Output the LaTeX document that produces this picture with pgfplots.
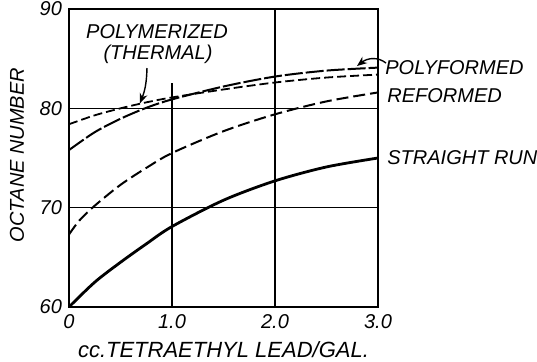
\documentclass[border=0pt]{standalone}
\usepackage{pgfplots}
\pgfplotsset{compat=1.18}
\usepackage{fontspec}
\setmainfont{Liberation Sans}
\usetikzlibrary{arrows.meta}

% octane number vs. tetraethyl lead, four gasolines
\pgfplotstableread{
x    y
0    60.0
0.25 62.5
0.5  64.5
0.75 66.35
1.0  68.1
1.5  70.75
2.0  72.7
2.5  74.1
3.0  75.0
}\straightrun
\pgfplotstableread{
x    y
0    67.3
0.1  68.7
0.25 70.2
0.5  72.3
0.75 74.0
1.0  75.5
1.5  77.7
2.0  79.4
2.5  80.7
3.0  81.6
}\reformed
\pgfplotstableread{
x    y
0    75.8
0.25 77.6
0.5  78.95
0.75 80.05
1.0  80.9
1.5  82.2
2.0  83.2
2.5  83.8
3.0  84.1
}\polyformed
\pgfplotstableread{
x    y
0    78.4
0.25 79.3
0.5  80.0
0.75 80.6
1.0  81.1
1.5  81.9
2.0  82.6
2.5  83.1
3.0  83.4
}\polymerized

\begin{document}
\begin{tikzpicture}
\useasboundingbox (0,0) rectangle (268.5pt,180.5pt);
\begin{axis}[
  at={(34.5pt,27pt)}, anchor=south west,
  scale only axis, width=154.5pt, height=149pt,
  xmin=0, xmax=3, ymin=60, ymax=90,
  xtick={0,1,2,3}, xticklabels={0,1.0,2.0,3.0},
  ytick={60,70,80,90},
  major tick length=0pt,
  axis line style={line width=1.1pt},
  /pgf/number format/assume math mode=true,
  tick label style={font=\itshape},
  xlabel={cc.TETRAETHYL LEAD/GAL.},
  ylabel={OCTANE NUMBER},
  xlabel style={font=\fontsize{11}{13}\selectfont\itshape, at={(axis description cs:0.5,-0.144)}, anchor=center},
  ylabel style={font=\itshape, at={(axis description cs:-0.168,0.51)}, anchor=center},
  clip=false,
]
% grid lines
\draw[line width=0.6pt] (axis cs:0,70) -- (axis cs:3,70);
\draw[line width=0.6pt] (axis cs:0,80) -- (axis cs:3,80);
\draw[line width=0.6pt] (axis cs:2,60) -- (axis cs:2,90);
\draw[line width=0.6pt] (axis cs:1,60) -- (axis cs:1,82.6);

\addplot[black, line width=1.4pt, smooth] table {\straightrun};
\addplot[black, line width=1pt, smooth, dash pattern=on 6pt off 2.5pt] table {\reformed};
\addplot[black, line width=1pt, smooth, dash pattern=on 9pt off 1.5pt] table {\polyformed};
\addplot[black, line width=0.9pt, smooth, dash pattern=on 4.5pt off 2pt] table {\polymerized};

% labels
\node[font=\itshape] at (axis cs:0.854,87.69) {POLYMERIZED};
\node[font=\itshape] at (axis cs:0.864,85.47) {(THERMAL)};
\draw[line width=0.7pt, -{Stealth[length=5pt,width=4pt]}] (axis cs:0.757,84.06) to[bend left=10] (axis cs:0.689,80.5);
\node[font=\itshape, anchor=west, inner sep=0pt] at (axis cs:3.068,84.11) {POLYFORMED};
\draw[line width=0.7pt, -{Stealth[length=5pt,width=4pt]}] (axis cs:3.078,84.56) .. controls (axis cs:3.0,85.2) and (axis cs:2.9,85.1) .. (axis cs:2.796,84.26);
\node[font=\itshape, anchor=west, inner sep=0pt] at (axis cs:3.087,81.29) {REFORMED};
\node[font=\itshape, anchor=west, inner sep=0pt] at (axis cs:3.087,75.0) {STRAIGHT RUN};
\end{axis}
\end{tikzpicture}
\end{document}
